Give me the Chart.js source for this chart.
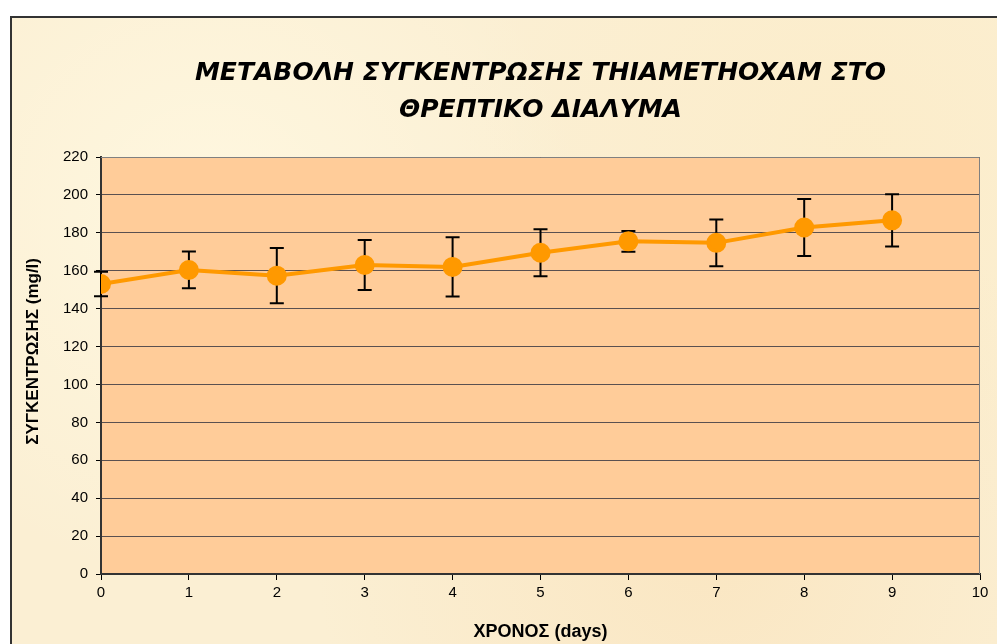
<!DOCTYPE html>
<html>
<head>
<meta charset="utf-8">
<script src="https://cdn.jsdelivr.net/npm/chart.js"></script>
<title>Thiamethoxam</title>
<style>
  body { margin: 0; background: #ffffff; }
  #frame {
    position: absolute; left: 10px; top: 16px; width: 995px; height: 660px;
    border: 2px solid #333;
    background:
      radial-gradient(circle at 20% 30%, rgba(255,248,225,0.9), rgba(255,248,225,0) 40%),
      radial-gradient(circle at 70% 80%, rgba(250,228,190,0.8), rgba(250,228,190,0) 45%),
      radial-gradient(circle at 85% 20%, rgba(252,236,200,0.8), rgba(252,236,200,0) 40%),
      #fbefd3;
  }
  #wrap { position: absolute; left: 0; top: 0; width: 997px; height: 644px; }
</style>
</head>
<body>
<div id="frame"></div>
<div id="wrap"><canvas id="myChart" width="997" height="644"></canvas></div>

<script>
// data
const days = [0, 1, 2, 3, 4, 5, 6, 7, 8, 9];
const concentration = [153, 160.4, 157.4, 163, 162, 169.5, 175.5, 174.7, 182.8, 186.6];
const errors = [6.5, 9.7, 14.6, 13.2, 15.6, 12.4, 5.5, 12.3, 15, 13.8];
const yTicks = [0, 20, 40, 60, 80, 100, 120, 140, 160, 180, 200, 220];

const points = days.map((d, i) => ({ x: d, y: concentration[i] }));

// orange plot area + grey border
const plotArea = {
  id: 'plotArea',
  beforeDraw(chart) {
    const a = chart.chartArea, ctx = chart.ctx;
    ctx.save();
    ctx.fillStyle = '#ffcc99';
    ctx.fillRect(a.left, a.top, a.right - a.left, a.bottom - a.top);
    ctx.restore();
  },
  afterDatasetsDraw(chart) {
    const a = chart.chartArea, ctx = chart.ctx;
    ctx.save();
    ctx.strokeStyle = '#808080';
    ctx.lineWidth = 1;
    ctx.beginPath();
    ctx.moveTo(a.left, a.top + 0.5);
    ctx.lineTo(a.right - 0.5, a.top + 0.5);
    ctx.lineTo(a.right - 0.5, a.bottom);
    ctx.stroke();
    ctx.restore();
  }
};

// error bars, drawn under the markers
const errorBars = {
  id: 'errorBars',
  beforeDatasetsDraw(chart) {
    const xs = chart.scales.x, ys = chart.scales.y, ctx = chart.ctx;
    ctx.save();
    ctx.strokeStyle = '#000';
    ctx.lineWidth = 2;
    days.forEach((d, i) => {
      const px = xs.getPixelForValue(d);
      const top = ys.getPixelForValue(concentration[i] + errors[i]);
      const bot = ys.getPixelForValue(concentration[i] - errors[i]);
      ctx.beginPath();
      ctx.moveTo(px, top); ctx.lineTo(px, bot);
      ctx.moveTo(px - 7, top); ctx.lineTo(px + 7, top);
      ctx.moveTo(px - 7, bot); ctx.lineTo(px + 7, bot);
      ctx.stroke();
    });
    ctx.restore();
  }
};

const ctx = document.getElementById('myChart');
new Chart(ctx, {
  type: 'scatter',
  data: {
    datasets: [{
      label: 'concentration',
      data: points,
      showLine: true,
      borderColor: '#ff9900',
      backgroundColor: '#ff9900',
      borderWidth: 4,
      pointRadius: 8,
      pointHoverRadius: 8
    }]
  },
  options: {
    responsive: false,
    animation: false,
    layout: { padding: { left: 10, right: 17, top: 0, bottom: 0 } },
    plugins: {
      legend: { display: false },
      tooltip: { enabled: false },
      title: {
        display: true,
        fullSize: false,
        text: ['ΜΕΤΑΒΟΛΗ ΣΥΓΚΕΝΤΡΩΣΗΣ THIAMETHOXAM ΣΤΟ', 'ΘΡΕΠΤΙΚΟ ΔΙΑΛΥΜΑ'],
        color: '#000',
        font: { family: 'DejaVu Sans', size: 25, weight: 'bold', style: 'italic', lineHeight: 1.48 },
        padding: { top: 55, bottom: 28 }
      }
    },
    scales: {
      x: {
        type: 'linear',
        min: 0, max: 10,
        afterFit(scale) { scale.height = 70; },
        ticks: { stepSize: 1, color: '#000', padding: 4, font: { family: 'Liberation Sans', size: 15 } },
        grid: { drawOnChartArea: false, drawTicks: true, tickLength: 6, color: '#000' },
        border: { color: '#333', width: 2 },
        title: {
          display: true, text: 'ΧΡΟΝΟΣ (days)', color: '#000',
          font: { family: 'Liberation Sans', size: 18, weight: 'bold', lineHeight: 1.2 },
          padding: { top: 4, bottom: 1 }
        }
      },
      y: {
        min: 0, max: 220,
        afterFit(scale) { scale.width = 91; },
        afterBuildTicks(scale) { scale.ticks = yTicks.map(v => ({ value: v })); },
        ticks: { color: '#000', padding: 8, font: { family: 'Liberation Sans', size: 15 } },
        grid: { color: '#5a5050', lineWidth: 1, tickLength: 5, tickColor: '#000' },
        border: { color: '#333', width: 2 },
        title: {
          display: true, text: '      ΣΥΓΚΕΝΤΡΩΣΗΣ (mg/l)', color: '#000',
          font: { family: 'Liberation Sans', size: 17, weight: 'bold', lineHeight: 1.2 },
          padding: { top: 13, bottom: 4 }
        }
      }
    }
  },
  plugins: [plotArea, errorBars]
});
</script>
</body>
</html>
